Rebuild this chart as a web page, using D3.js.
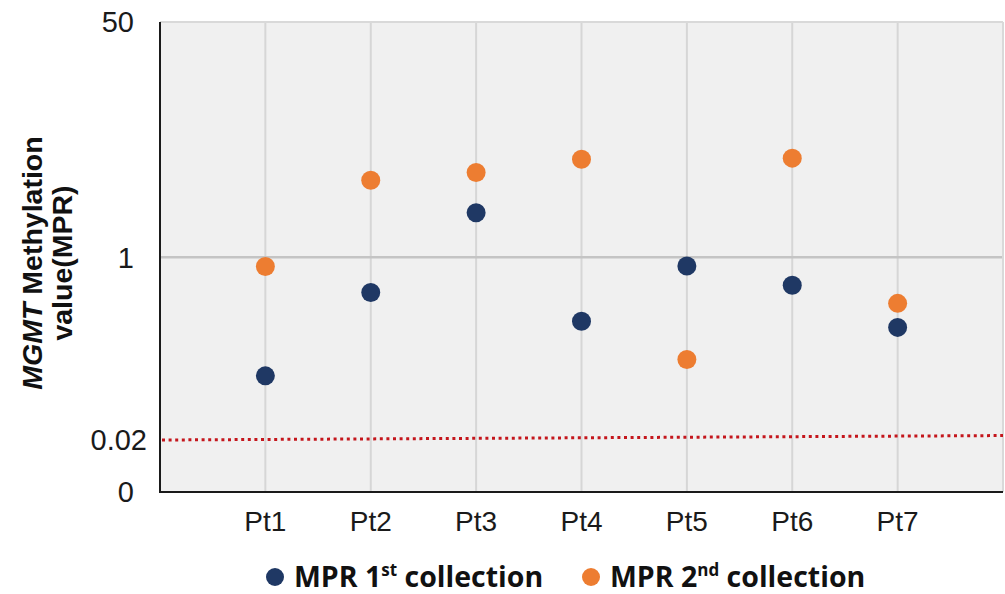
<!DOCTYPE html>
<html>
<head>
<meta charset="utf-8">
<script src="https://cdn.jsdelivr.net/npm/d3@7"></script>
<style>
  body { margin: 0; background: #fff; }
  text { font-family: "Liberation Sans", Arial, sans-serif; }
</style>
</head>
<body>
<svg id="chart" width="1005" height="594"></svg>
<script>
// data
var patients = ["Pt1", "Pt2", "Pt3", "Pt4", "Pt5", "Pt6", "Pt7"];
var mpr1st = [0.079, 0.47, 2.1, 0.254, 0.83, 0.55, 0.223];
var mpr2nd = [0.82, 3.6, 4.1, 5.1, 0.112, 5.2, 0.373];
var yTickValues = [50, 1, 0];
var yTickLabels = ["50", "1", "0"];
var cutoff = 0.02;
var cutoffEnd = 0.022; // the dotted line drifts up a little toward the right

var svg = d3.select("#chart");
// (window.top is read-only, so not "top")
var plotL = 160, plotR = 1003, plotT = 22, plotB = 492;

// one slot before Pt1 and one after Pt7
var x = d3.scaleLinear().domain([0, patients.length + 1]).range([plotL, plotR]);
var y = d3.scaleLog().domain([0.02, 1, 50]).range([440, 257.3, plotT]);
function ypos(v) { return v === 0 ? plotB : y(v); }

svg.append("rect")
    .attr("x", plotL).attr("y", plotT)
    .attr("width", plotR - plotL).attr("height", plotB - plotT)
    .attr("fill", "#f0f0f0");

// vertical grid
svg.selectAll(".vgrid")
    .data(patients)
    .join("line")
    .attr("class", "vgrid")
    .attr("x1", (d, i) => x(i + 1)).attr("x2", (d, i) => x(i + 1))
    .attr("y1", plotT).attr("y2", plotB)
    .attr("stroke", "#d6d6d6").attr("stroke-width", 2);

// horizontal grid at 1 and at the top
svg.selectAll(".hgrid")
    .data([1, 50])
    .join("line")
    .attr("class", "hgrid")
    .attr("x1", plotL).attr("x2", plotR)
    .attr("y1", d => y(d)).attr("y2", d => y(d))
    .attr("stroke", d => d == 1 ? "#c4c4c4" : "#d9d9d9")
    .attr("stroke-width", d => d == 1 ? 2.5 : 2);

svg.append("line")
    .attr("x1", plotR).attr("x2", plotR)
    .attr("y1", plotT).attr("y2", plotB)
    .attr("stroke", "#d9d9d9").attr("stroke-width", 2);

// cutoff line
svg.append("line")
    .attr("x1", plotL + 2).attr("x2", plotR)
    .attr("y1", y(cutoff)).attr("y2", y(cutoffEnd))
    .attr("stroke", "#c4161c")
    .attr("stroke-width", 3)
    .attr("stroke-dasharray", "3 3.6");

// axis lines
svg.append("line")
    .attr("x1", plotL).attr("x2", plotL)
    .attr("y1", plotT).attr("y2", plotB + 1)
    .attr("stroke", "#1a1a1a").attr("stroke-width", 2);
svg.append("line")
    .attr("x1", plotL).attr("x2", plotR)
    .attr("y1", plotB).attr("y2", plotB)
    .attr("stroke", "#1a1a1a").attr("stroke-width", 2);

// y tick labels
svg.selectAll(".ytick")
    .data(yTickValues)
    .join("text")
    .attr("class", "ytick")
    .attr("x", 134)
    .attr("y", d => ypos(d))
    .attr("dy", "0.36em")
    .attr("text-anchor", "end")
    .attr("font-size", 29)
    .attr("fill", "#1a1a1a")
    .text((d, i) => yTickLabels[i]);

svg.append("text")
    .attr("x", 147)
    .attr("y", y(cutoff))
    .attr("dy", "0.36em")
    .attr("text-anchor", "end")
    .attr("font-size", 29)
    .attr("fill", "#1a1a1a")
    .text(String(cutoff));

// x tick labels
svg.selectAll(".xtick")
    .data(patients)
    .join("text")
    .attr("class", "xtick")
    .attr("x", (d, i) => x(i + 1))
    .attr("y", 531)
    .attr("text-anchor", "middle")
    .attr("font-size", 28)
    .attr("fill", "#1a1a1a")
    .text(d => d);

// y title
var title = svg.append("text")
    .attr("transform", "translate(0,263) rotate(-90)")
    .attr("text-anchor", "middle")
    .attr("font-size", 28.5)
    .attr("font-weight", "bold")
    .attr("fill", "#111");
var line1 = title.append("tspan").attr("x", 0).attr("y", 42);
line1.append("tspan").attr("font-style", "italic").text("MGMT");
line1.append("tspan").text(" Methylation");
title.append("tspan").attr("x", 0).attr("y", 72).text("value(MPR)");

// points
var series = [
    { values: mpr2nd, color: "#ed7d31" },
    { values: mpr1st, color: "#1f3864" }
];
series.forEach(function(s) {
    svg.append("g")
        .selectAll("circle")
        .data(s.values)
        .join("circle")
        .attr("cx", (d, i) => x(i + 1))
        .attr("cy", d => y(d))
        .attr("r", 9.5)
        .attr("fill", s.color);
});

// legend
var legend = [
    { color: "#1f3864", main: "MPR 1", sup: "st", rest: " collection", x: 275 },
    { color: "#ed7d31", main: "MPR 2", sup: "nd", rest: " collection", x: 591 }
];
var lg = svg.selectAll(".legend")
    .data(legend)
    .join("g")
    .attr("class", "legend")
    .attr("transform", d => "translate(" + d.x + ",577)");
lg.append("circle").attr("r", 9).attr("fill", d => d.color);
var lt = lg.append("text")
    .attr("x", 19)
    .attr("y", 10)
    .style("font-family", "'Open Sans', sans-serif")
    .attr("font-size", 28.5)
    .attr("font-weight", "bold")
    .attr("fill", "#111");
lt.append("tspan").text(d => d.main);
lt.append("tspan").attr("dy", -11).attr("font-size", 17).text(d => d.sup);
lt.append("tspan").attr("dy", 11).text(d => d.rest);
</script>
</body>
</html>
